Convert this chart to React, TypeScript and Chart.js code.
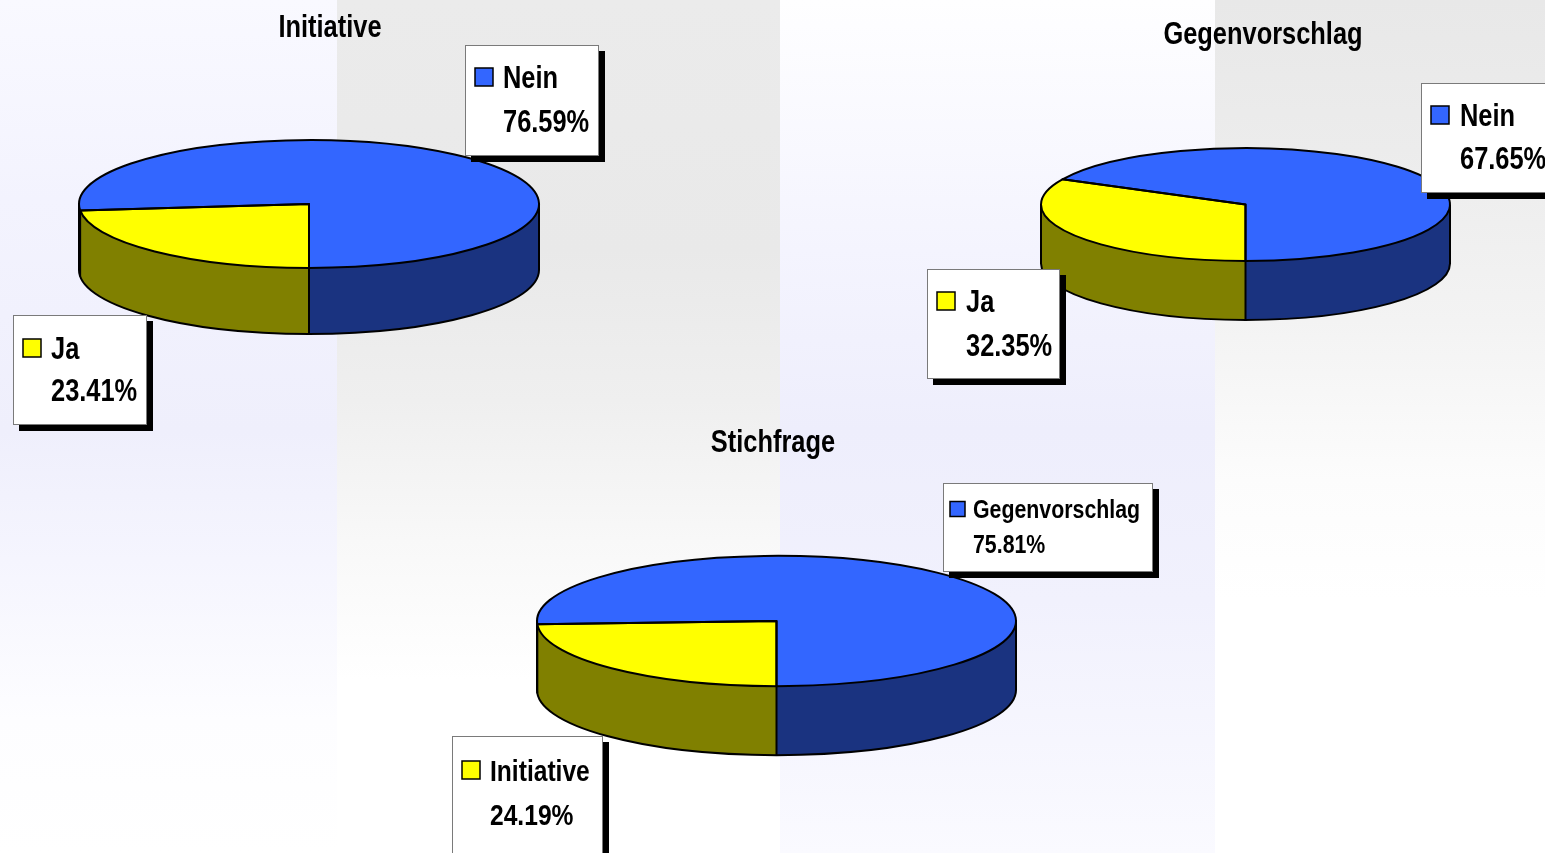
import React, { useEffect, useRef } from 'react';
import { Chart, registerables } from 'chart.js';

Chart.register(...registerables);

const PAGE_W = 1545;
const PAGE_H = 853;

// ---- data ----
const initiativeTitle = 'Initiative';
const initiativeLabels = ['Ja', 'Nein'];
const initiativeValues = [23.41, 76.59];

const gegenvorschlagTitle = 'Gegenvorschlag';
const gegenvorschlagLabels = ['Ja', 'Nein'];
const gegenvorschlagValues = [32.35, 67.65];

const stichfrageTitle = 'Stichfrage';
const stichfrageLabels = ['Initiative', 'Gegenvorschlag'];
const stichfrageValues = [24.19, 75.81];

// ---- styles ----
const topColors = ['#ffff00', '#3366ff'];
const sideColors = ['#808000', '#1a3380'];
const FONT = "'Liberation Sans', Arial, sans-serif";
const NARROW = 0.82;

type Box = {
  left: number; top: number; width: number; height: number; font: number;
  marker: number; markerDx: number; textDx: number; row1: number; row2: number;
};
type PieLayout = {
  cx: number; cy: number; rx: number; tilt: number; depth: number;
  titleX: number; titleY: number; titleFont: number; boxes: Box[];
};

const initiativeLayout: PieLayout = {
  cx: 309, cy: 204, rx: 230, tilt: 0.278, depth: 66,
  titleX: 330, titleY: 37, titleFont: 31,
  boxes: [
    { left: 13, top: 315, width: 134, height: 110, font: 31, marker: 18, markerDx: 10, textDx: 38, row1: 33, row2: 75 },
    { left: 465, top: 45, width: 134, height: 111, font: 31, marker: 18, markerDx: 10, textDx: 38, row1: 32, row2: 76 },
  ],
};
const gegenvorschlagLayout: PieLayout = {
  cx: 1245.5, cy: 204.5, rx: 204.5, tilt: 0.276, depth: 59,
  titleX: 1263, titleY: 44, titleFont: 31,
  boxes: [
    { left: 927, top: 269, width: 133, height: 110, font: 31, marker: 18, markerDx: 10, textDx: 39, row1: 32, row2: 76 },
    { left: 1421, top: 83, width: 140, height: 110, font: 31, marker: 18, markerDx: 10, textDx: 39, row1: 32, row2: 75 },
  ],
};
const stichfrageLayout: PieLayout = {
  cx: 776.5, cy: 621, rx: 239.5, tilt: 0.272, depth: 69,
  titleX: 773, titleY: 452, titleFont: 31,
  boxes: [
    { left: 452, top: 736, width: 151, height: 130, font: 30, marker: 18, markerDx: 10, textDx: 38, row1: 34, row2: 78 },
    { left: 943, top: 483, width: 210, height: 89, font: 26, marker: 15, markerDx: 7, textDx: 30, row1: 26, row2: 61 },
  ],
};

function frontSegments(s: number, e: number): [number, number][] {
  const out: [number, number][] = [];
  for (let k = -2; k <= 3; k++) {
    const a = Math.max(s, 2 * Math.PI * k);
    const b = Math.min(e, 2 * Math.PI * k + Math.PI);
    if (b > a) out.push([a, b]);
  }
  return out;
}

function drawText(ctx: CanvasRenderingContext2D, text: string, x: number, y: number, size: number, align: CanvasTextAlign) {
  ctx.save();
  ctx.font = `bold ${size}px ${FONT}`;
  ctx.textAlign = align;
  ctx.textBaseline = 'alphabetic';
  ctx.fillStyle = '#000';
  ctx.translate(x, y);
  ctx.scale(NARROW, 1);
  ctx.fillText(text, 0, 0);
  ctx.restore();
}

function makePie3dPlugin(L: PieLayout, title: string) {
  return {
    id: 'pie3d',
    beforeDatasetsDraw(chart: any) {
      const ctx: CanvasRenderingContext2D = chart.ctx;
      const arcs = chart.getDatasetMeta(0).data;
      if (!arcs.length) return;
      const first = arcs[0].getProps(['x', 'y', 'outerRadius'], true);
      const cx = first.x;
      const rx = first.outerRadius;
      const ry = rx * L.tilt;
      ctx.save();
      arcs.forEach((el: any, i: number) => {
        const p = el.getProps(['startAngle', 'endAngle'], true);
        frontSegments(p.startAngle, p.endAngle).forEach(([a, b]) => {
          ctx.beginPath();
          ctx.ellipse(cx, L.cy, rx, ry, 0, a, b, false);
          ctx.ellipse(cx, L.cy + L.depth, rx, ry, 0, b, a, true);
          ctx.closePath();
          ctx.fillStyle = sideColors[i];
          ctx.fill();
        });
      });
      ctx.strokeStyle = '#000';
      ctx.lineWidth = 2;
      ctx.lineJoin = 'round';
      ctx.beginPath();
      ctx.moveTo(cx + rx, L.cy);
      ctx.lineTo(cx + rx, L.cy + L.depth);
      ctx.ellipse(cx, L.cy + L.depth, rx, ry, 0, 0, Math.PI, false);
      ctx.lineTo(cx - rx, L.cy);
      ctx.stroke();
      arcs.forEach((el: any) => {
        const p = el.getProps(['startAngle'], true);
        const a = p.startAngle;
        if (Math.sin(a) > 0.02) {
          const x = cx + rx * Math.cos(a);
          const y = L.cy + ry * Math.sin(a);
          ctx.beginPath();
          ctx.moveTo(x, y);
          ctx.lineTo(x, y + L.depth);
          ctx.stroke();
        }
      });
      ctx.restore();
      // squash the library's circular arcs into the tilted top face
      ctx.save();
      ctx.translate(0, L.cy);
      ctx.scale(1, L.tilt);
      ctx.translate(0, -first.y);
    },
    afterDatasetsDraw(chart: any) {
      const ctx: CanvasRenderingContext2D = chart.ctx;
      const arcs = chart.getDatasetMeta(0).data;
      if (!arcs.length) return;
      ctx.restore();
      ctx.save();
      ctx.strokeStyle = '#000';
      ctx.lineWidth = 2;
      ctx.lineJoin = 'round';
      arcs.forEach((el: any) => {
        const p = el.getProps(['x', 'startAngle', 'endAngle', 'outerRadius'], true);
        const rx = p.outerRadius;
        const ry = rx * L.tilt;
        ctx.beginPath();
        ctx.moveTo(p.x, L.cy);
        ctx.ellipse(p.x, L.cy, rx, ry, 0, p.startAngle, p.endAngle, false);
        ctx.closePath();
        ctx.stroke();
      });
      ctx.restore();
    },
    afterDraw(chart: any) {
      const ctx: CanvasRenderingContext2D = chart.ctx;
      const labels: string[] = chart.data.labels;
      const values: number[] = chart.data.datasets[0].data;
      ctx.save();
      drawText(ctx, title, L.titleX, L.titleY, L.titleFont, 'center');
      labels.forEach((lab, i) => {
        const b = L.boxes[i];
        if (!b) return;
        ctx.fillStyle = '#000';
        ctx.fillRect(b.left + 6, b.top + 6, b.width, b.height);
        ctx.fillStyle = '#fff';
        ctx.fillRect(b.left, b.top, b.width, b.height);
        ctx.strokeStyle = '#7a7a7a';
        ctx.lineWidth = 1;
        ctx.strokeRect(b.left + 0.5, b.top + 0.5, b.width - 1, b.height - 1);
        const my = b.top + b.row1 - b.marker / 2;
        ctx.fillStyle = topColors[i];
        ctx.fillRect(b.left + b.markerDx, my, b.marker, b.marker);
        ctx.strokeStyle = '#000';
        ctx.lineWidth = 1.5;
        ctx.strokeRect(b.left + b.markerDx, my, b.marker, b.marker);
        const cap = b.font * 0.36;
        drawText(ctx, lab, b.left + b.textDx, b.top + b.row1 + cap, b.font, 'left');
        drawText(ctx, `${values[i].toFixed(2)}%`, b.left + b.textDx, b.top + b.row2 + cap, b.font, 'left');
      });
      ctx.restore();
    },
  };
}

function Pie3D(props: { title: string; labels: string[]; values: number[]; layout: PieLayout }) {
  const ref = useRef<HTMLCanvasElement | null>(null);
  useEffect(() => {
    if (!ref.current) return;
    const L = props.layout;
    const chart = new Chart(ref.current, {
      type: 'pie',
      data: {
        labels: props.labels,
        datasets: [{
          data: props.values,
          backgroundColor: topColors,
          borderWidth: 0,
        }],
      },
      options: {
        responsive: false,
        maintainAspectRatio: false,
        devicePixelRatio: 1,
        animation: false,
        events: [],
        rotation: 180,
        layout: { padding: { left: L.cx - L.rx, right: PAGE_W - L.cx - L.rx, top: 0, bottom: 0 } },
        plugins: { legend: { display: false }, tooltip: { enabled: false }, title: { display: false } },
      },
      plugins: [makePie3dPlugin(L, props.title)],
    } as any);
    return () => chart.destroy();
  }, []);
  return (
    <canvas
      ref={ref}
      width={PAGE_W}
      height={PAGE_H}
      style={{ position: 'absolute', left: 0, top: 0, width: PAGE_W, height: PAGE_H }}
    />
  );
}

const bgColumns = [
  { left: 0, width: 337, bg: 'linear-gradient(to bottom, #f9f9ff 0px, #f3f3fe 200px, #efeffc 430px, #f5f5fe 560px, #fdfdff 720px, #ffffff 853px)' },
  { left: 337, width: 443, bg: 'linear-gradient(to bottom, #ebebeb 0px, #e9e9e9 250px, #efefef 400px, #f8f8f8 540px, #ffffff 680px, #ffffff 853px)' },
  { left: 780, width: 435, bg: 'linear-gradient(to bottom, #fefeff 0px, #f4f4fe 250px, #eeeefc 430px, #f1f1fd 600px, #fafaff 853px)' },
  { left: 1215, width: 330, bg: 'linear-gradient(to bottom, #e8e8e8 0px, #ececec 150px, #f3f3f3 320px, #fcfcfc 480px, #ffffff 600px, #ffffff 853px)' },
];

export default function App() {
  return (
    <div style={{ position: 'fixed', left: 0, top: 0, width: PAGE_W, height: PAGE_H, overflow: 'hidden', background: '#fff' }}>
      {bgColumns.map((c, i) => (
        <div key={i} style={{ position: 'absolute', left: c.left, top: 0, width: c.width, height: PAGE_H, background: c.bg }} />
      ))}
      <Pie3D title={initiativeTitle} labels={initiativeLabels} values={initiativeValues} layout={initiativeLayout} />
      <Pie3D title={gegenvorschlagTitle} labels={gegenvorschlagLabels} values={gegenvorschlagValues} layout={gegenvorschlagLayout} />
      <Pie3D title={stichfrageTitle} labels={stichfrageLabels} values={stichfrageValues} layout={stichfrageLayout} />
    </div>
  );
}
